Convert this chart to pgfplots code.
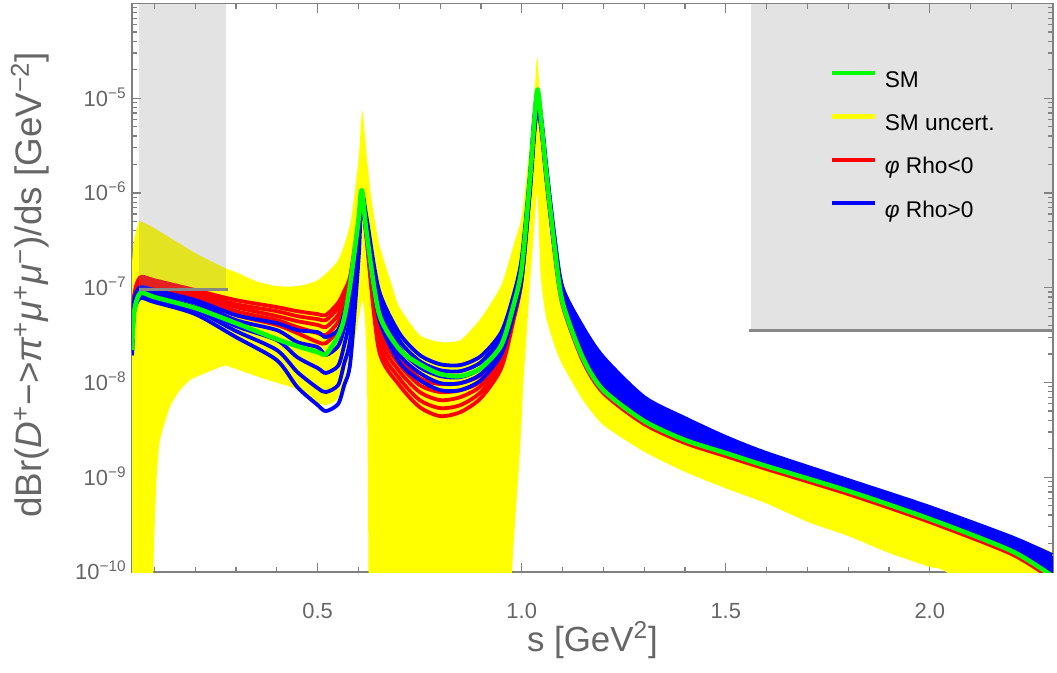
\documentclass[border=0pt]{standalone}
\usepackage{pgfplots}
\usepackage{pgfplotstable}
\pgfplotsset{compat=1.18}
\usepackage{fontspec}
\setmainfont{Liberation Sans}
\definecolor{txtgray}{gray}{0.4}
\definecolor{axgray}{gray}{0.5}
\definecolor{boxgray}{gray}{0.54}
\definecolor{linegray}{gray}{0.53}
\definecolor{smgreen}{rgb}{0,1,0}
\definecolor{ylw}{rgb}{1,1,0}

\pgfplotstableread{
x r1 r2 r3 r4 r5 b1 b2 b3 b4 b5 g
0.045 2.67e-8 2.46e-8 2.31e-8 2.20e-8 2.09e-8 2.46e-8 2.29e-8 2.18e-8 2.07e-8 1.93e-8 2.20e-8
0.05 8.16e-8 7.77e-8 7.40e-8 6.92e-8 6.40e-8 7.33e-8 6.82e-8 6.34e-8 5.89e-8 5.48e-8 5.53e-8
0.065 1.29e-7 1.23e-7 1.17e-7 1.09e-7 1.04e-7 1.01e-7 9.44e-8 8.99e-8 8.36e-8 7.77e-8 8.78e-8
0.1 1.20e-7 1.15e-7 1.09e-7 1.01e-7 9.67e-8 9.44e-8 8.78e-8 8.16e-8 7.59e-8 7.05e-8 7.96e-8
0.2 9.44e-8 8.99e-8 8.36e-8 7.96e-8 7.40e-8 7.40e-8 6.92e-8 6.25e-8 5.81e-8 5.27e-8 6.11e-8
0.3 7.40e-8 6.71e-8 6.25e-8 5.66e-8 5.14e-8 5.14e-8 4.55e-8 3.94e-8 3.49e-8 3.01e-8 4.23e-8
0.4 6.25e-8 5.66e-8 5.02e-8 4.55e-8 4.05e-8 4.23e-8 3.57e-8 2.80e-8 2.20e-8 1.72e-8 2.87e-8
0.45 5.66e-8 5.02e-8 4.44e-8 3.84e-8 3.32e-8 3.57e-8 2.67e-8 1.85e-8 1.29e-8 8.95e-9 2.42e-8
0.5 5.27e-8 4.67e-8 4.05e-8 3.32e-8 2.67e-8 3.40e-8 2.36e-8 1.42e-8 8.73e-9 5.78e-9 2.09e-8
0.52 5.14e-8 4.55e-8 3.84e-8 3.16e-8 2.60e-8 3.01e-8 1.95e-8 1.26e-8 7.93e-9 4.99e-9 1.99e-8
0.55 6.92e-8 6.11e-8 5.14e-8 4.34e-8 3.57e-8 3.57e-8 2.42e-8 1.50e-8 9.39e-9 5.93e-9 3.09e-8
0.565 9.22e-8 8.36e-8 7.40e-8 6.40e-8 5.40e-8 5.40e-8 3.75e-8 2.48e-8 1.60e-8 9.39e-9 4.78e-8
0.58 1.36e-7 1.23e-7 1.09e-7 9.44e-8 8.16e-8 1.07e-7 7.96e-8 5.14e-8 2.94e-8 1.64e-8 1.12e-7
0.6 5.16e-7 4.81e-7 4.47e-7 4.15e-7 3.86e-7 4.92e-7 4.25e-7 3.50e-7 2.75e-7 1.96e-7 5.16e-7
0.608 1.07e-6 1.04e-6 1.02e-6 9.95e-7 9.72e-7 1.02e-6 9.95e-7 9.72e-7 9.49e-7 9.03e-7 1.07e-6
0.62 3.86e-7 3.68e-7 3.50e-7 3.34e-7 3.18e-7 5.43e-7 4.92e-7 4.47e-7 4.05e-7 3.50e-7 3.77e-7
0.65 4.34e-8 3.66e-8 3.09e-8 2.60e-8 2.20e-8 9.44e-8 8.16e-8 6.92e-8 5.81e-8 4.78e-8 5.40e-8
0.7 1.85e-8 1.56e-8 1.32e-8 1.11e-8 9.39e-9 3.32e-8 2.80e-8 2.36e-8 1.99e-8 1.64e-8 2.25e-8
0.75 1.11e-8 9.39e-9 7.93e-9 6.52e-9 5.50e-9 1.95e-8 1.68e-8 1.45e-8 1.26e-8 1.06e-8 1.56e-8
0.8 9.63e-9 7.93e-9 6.52e-9 5.37e-9 4.42e-9 1.56e-8 1.35e-8 1.17e-8 9.86e-9 8.31e-9 1.23e-8
0.85 9.86e-9 8.31e-9 7.02e-9 5.78e-9 4.88e-9 1.53e-8 1.32e-8 1.14e-8 9.86e-9 8.31e-9 1.17e-8
0.9 1.20e-8 1.03e-8 9.17e-9 7.93e-9 6.86e-9 1.90e-8 1.64e-8 1.42e-8 1.23e-8 1.06e-8 1.42e-8
0.95 2.09e-8 1.90e-8 1.72e-8 1.56e-8 1.42e-8 3.40e-8 3.01e-8 2.67e-8 2.31e-8 1.99e-8 2.48e-8
0.98 5.81e-8 5.40e-8 5.14e-8 4.78e-8 4.55e-8 8.36e-8 7.40e-8 6.55e-8 5.81e-8 5.14e-8 6.55e-8
1.0 1.46e-7 1.39e-7 1.33e-7 1.26e-7 1.20e-7 2.05e-7 1.82e-7 1.61e-7 1.43e-7 1.26e-7 1.61e-7
1.02 1.27e-6 1.21e-6 1.15e-6 1.10e-6 1.04e-6 1.54e-6 1.40e-6 1.27e-6 1.15e-6 1.04e-6 1.36e-6
1.03 4.83e-6 4.60e-6 4.38e-6 4.17e-6 3.98e-6 5.86e-6 5.32e-6 4.83e-6 4.38e-6 3.98e-6 5.19e-6
1.039 1.10e-5 1.05e-5 1.00e-5 9.53e-6 9.09e-6 1.16e-5 1.05e-5 9.53e-6 8.65e-6 7.85e-6 1.24e-5
1.05 4.60e-6 4.49e-6 4.27e-6 4.17e-6 3.98e-6 5.19e-6 4.95e-6 4.60e-6 4.38e-6 4.07e-6 4.60e-6
1.06 1.66e-6 1.62e-6 1.54e-6 1.50e-6 1.43e-6 1.96e-6 1.87e-6 1.74e-6 1.66e-6 1.54e-6 1.66e-6
1.08 2.81e-7 2.75e-7 2.68e-7 2.55e-7 2.49e-7 3.59e-7 3.34e-7 3.10e-7 2.88e-7 2.68e-7 2.81e-7
1.1 8.36e-8 7.96e-8 7.40e-8 7.05e-8 6.55e-8 1.01e-7 9.22e-8 8.36e-8 7.59e-8 7.05e-8 7.05e-8
1.15 2.48e-8 2.25e-8 2.04e-8 1.85e-8 1.68e-8 3.84e-8 3.24e-8 2.73e-8 2.31e-8 1.95e-8 1.81e-8
1.2 1.20e-8 1.06e-8 9.63e-9 8.52e-9 7.74e-9 1.85e-8 1.56e-8 1.29e-8 1.06e-8 8.73e-9 8.31e-9
1.3 5.12e-9 4.76e-9 4.32e-9 4.02e-9 3.64e-9 7.02e-9 6.22e-9 5.37e-9 4.64e-9 4.11e-9 3.92e-9
1.4 3.15e-9 2.93e-9 2.72e-9 2.47e-9 2.30e-9 4.21e-9 3.73e-9 3.30e-9 2.93e-9 2.59e-9 2.47e-9
1.5 2.19e-9 2.03e-9 1.89e-9 1.80e-9 1.67e-9 2.66e-9 2.47e-9 2.24e-9 2.03e-9 1.89e-9 1.80e-9
1.6 1.52e-9 1.45e-9 1.38e-9 1.28e-9 1.22e-9 1.80e-9 1.67e-9 1.59e-9 1.48e-9 1.38e-9 1.31e-9
1.8 8.08e-10 7.70e-10 7.33e-10 6.99e-10 6.65e-10 9.35e-10 8.91e-10 8.28e-10 7.70e-10 7.33e-10 7.16e-10
2.0 4.19e-10 4.00e-10 3.81e-10 3.54e-10 3.37e-10 4.85e-10 4.51e-10 4.30e-10 4.09e-10 3.81e-10 3.63e-10
2.2 1.93e-10 1.84e-10 1.75e-10 1.63e-10 1.55e-10 2.34e-10 2.18e-10 2.02e-10 1.88e-10 1.75e-10 1.67e-10
2.3 1.19e-10 1.10e-10 1.00e-10 9.3e-11 8.4e-11 1.51e-10 1.34e-10 1.19e-10 1.05e-10 9.53e-11 9.07e-11
}\curves

\begin{document}
\begin{tikzpicture}
\begin{axis}[
  name=ax, scale only axis, width=460.5bp, height=284.25bp,
  ymode=log, xmin=0.0449, xmax=2.302, ymin=1e-10, ymax=1e-4,
  axis line style={axgray, line width=0.6bp},
  tick style={axgray, line width=0.6bp},
  major tick length=4.7bp, minor tick length=2.6bp,
  tick align=inside, xtick pos=both, ytick pos=both,
  xtick={0.5,1,1.5,2}, xticklabels={0.5,1.0,1.5,2.0},
  minor xtick={0.1,0.2,0.3,0.4,0.6,0.7,0.8,0.9,1.1,1.2,1.3,1.4,1.6,1.7,1.8,1.9,2.1,2.2,2.3},
  ytick={1e-10,1e-9,1e-8,1e-7,1e-6,1e-5},
  yticklabels={10\textsuperscript{−10},10\textsuperscript{−9},10\textsuperscript{−8},10\textsuperscript{−7},10\textsuperscript{−6},10\textsuperscript{−5}},
  minor ytick={2e-10,3e-10,4e-10,5e-10,6e-10,7e-10,8e-10,9e-10,2e-9,3e-9,4e-9,5e-9,6e-9,7e-9,8e-9,9e-9,2e-8,3e-8,4e-8,5e-8,6e-8,7e-8,8e-8,9e-8,2e-7,3e-7,4e-7,5e-7,6e-7,7e-7,8e-7,9e-7,2e-6,3e-6,4e-6,5e-6,6e-6,7e-6,8e-6,9e-6,2e-5,3e-5,4e-5,5e-5,6e-5,7e-5,8e-5,9e-5},
  ticklabel style={font=\fontsize{11}{13}\selectfont, text=txtgray},
  xticklabel style={anchor=north, inner sep=0pt, yshift=-15.5bp},
  yticklabel style={anchor=base east, inner sep=0pt, xshift=-2.5bp, yshift=-3.9bp},
  xlabel={s [GeV\textsuperscript{2}]},
  ylabel={dBr(\textit{D}\textsuperscript{+}−>\textit{π}\textsuperscript{+}\textit{μ}\textsuperscript{+}\textit{μ}\textsuperscript{−})/ds [GeV\textsuperscript{−2}]},
  xlabel style={font=\fontsize{17.5}{20}\selectfont, text=txtgray, at={(axis description cs:0.5,-0.1196)}, anchor=center},
  ylabel style={font=\fontsize{18.5}{21}\selectfont, text=txtgray, at={(axis description cs:-0.1107,0.505)}, anchor=center},
  legend style={at={(axis description cs:0.7568,0.889)}, anchor=north west,
    draw=none, fill=none, inner sep=0pt, row sep=7.7bp, column sep=3bp,
    font=\fontsize{11.4}{13}\selectfont,
    nodes={inner sep=1bp, text height=9bp, text depth=3bp}},
  legend cell align=left,
  legend image code/.code={\draw[#1, line width=2.2bp] (0bp,4bp) -- (21.5bp,4bp);},
  every axis plot/.append style={line join=round},
]
% SM uncertainty band
\addplot[fill=ylw, draw=none, forget plot, smooth, tension=0.35] coordinates {
(0.045,1.86e-7) (0.05,3.18e-7) (0.06,4.69e-7) (0.066,5.04e-7) (0.1,4.25e-7)
(0.2,2.32e-7) (0.275,1.6e-7) (0.3,1.46e-7) (0.35,1.17e-7) (0.4,1.04e-7)
(0.45,1.04e-7) (0.5,1.20e-7) (0.55,1.95e-7) (0.58,4.77e-7) (0.6,2.22e-6)
(0.609,7.47e-6) (0.62,2.50e-6) (0.632,8.40e-7) (0.65,2.95e-7) (0.68,1.12e-7)
(0.7,6.24e-8) (0.75,3.16e-8) (0.8,2.67e-8) (0.85,2.80e-8) (0.9,4.78e-8)
(0.95,1.06e-7) (0.98,2.81e-7) (1.0,5.73e-7) (1.02,3.19e-6) (1.03,9.5e-6)
(1.038,2.71e-5) (1.046,8.04e-6) (1.06,1.12e-6) (1.07,3.18e-7) (1.1,9.44e-8)
(1.15,3.57e-8) (1.2,1.90e-8) (1.3,6.8e-9) (1.4,4.0e-9) (1.5,2.55e-9)
(1.6,1.7e-9) (1.8,8.2e-10) (2.0,4.6e-10) (2.2,2.2e-10) (2.31,1.4e-10)
(2.31,1e-11) (2.05,9.3e-11) (2.0,1.13e-10) (1.9,1.59e-10) (1.8,2.40e-10)
(1.7,3.39e-10) (1.6,5.3e-10) (1.5,7.64e-10) (1.4,1.14e-9) (1.3,1.86e-9)
(1.2,3.55e-9) (1.15,6.52e-9) (1.1,1.53e-8) (1.08,2.48e-8) (1.06,4.78e-8)
(1.05,9.44e-8) (1.045,1.73e-7) (1.038,9.9e-7) (1.0245,1.95e-7) (1.0203,1.12e-7)
(1.0123,3.32e-8) (1.0039,9.9e-9) (0.9958,1.94e-9) (0.976,1e-10) (0.972,1e-11)
(0.625,1e-11) (0.6245,1e-10) (0.621,1.06e-8) (0.616,4.55e-8) (0.610,7.40e-8)
(0.5995,4.55e-8) (0.587,2.20e-8) (0.571,1.46e-8) (0.563,9.39e-9) (0.5466,6.52e-9)
(0.518,5.78e-9) (0.481,6.52e-9) (0.4485,8.52e-9) (0.367,1.10e-8) (0.285,1.46e-8)
(0.269,1.50e-8) (0.203,1.15e-8) (0.187,1.06e-8) (0.1625,8.31e-9) (0.138,5.54e-9)
(0.1135,2.47e-9) (0.105,9.34e-10) (0.097,1.05e-10) (0.095,1e-11) (0.045,1e-11)
} --cycle;
% phi Rho<0
\addplot[red, line width=1.9bp, forget plot, smooth, tension=0.45] table[x=x,y=r1] {\curves};
\addplot[red, line width=1.9bp, forget plot, smooth, tension=0.45] table[x=x,y=r2] {\curves};
\addplot[red, line width=1.9bp, forget plot, smooth, tension=0.45] table[x=x,y=r3] {\curves};
\addplot[red, line width=1.9bp, forget plot, smooth, tension=0.45] table[x=x,y=r4] {\curves};
\addplot[red, line width=1.9bp, forget plot, smooth, tension=0.45] table[x=x,y=r5] {\curves};
% phi Rho>0
\addplot[fill=blue, draw=none, forget plot, smooth, tension=0.3] coordinates {
(1.08,3.59e-7) (1.1,1.01e-7) (1.15,3.84e-8) (1.2,1.85e-8) (1.3,7.02e-9) (1.4,4.21e-9)
(1.5,2.66e-9) (1.6,1.80e-9) (1.8,9.35e-10) (2.0,4.85e-10) (2.2,2.34e-10) (2.3,1.51e-10)
(2.3,9.53e-11) (2.2,1.75e-10) (2.0,3.81e-10) (1.8,7.33e-10) (1.6,1.38e-9) (1.5,1.89e-9)
(1.4,2.59e-9) (1.3,4.11e-9) (1.2,8.73e-9) (1.15,1.95e-8) (1.1,7.05e-8) (1.08,2.68e-7)
} --cycle;
\addplot[blue, line width=1.9bp, forget plot, smooth, tension=0.45] table[x=x,y=b1] {\curves};
\addplot[blue, line width=1.9bp, forget plot, smooth, tension=0.45] table[x=x,y=b2] {\curves};
\addplot[blue, line width=1.9bp, forget plot, smooth, tension=0.45] table[x=x,y=b3] {\curves};
\addplot[blue, line width=1.9bp, forget plot, smooth, tension=0.45] table[x=x,y=b4] {\curves};
\addplot[blue, line width=1.9bp, forget plot, smooth, tension=0.45] table[x=x,y=b5] {\curves};
% SM
\addplot[smgreen, line width=2.3bp, forget plot, smooth, tension=0.45] table[x=x,y=g] {\curves};
% excluded regions
\addplot[fill=boxgray, fill opacity=0.24, draw=none, forget plot] coordinates {
(0.062,9.5e-8) (0.275,9.5e-8) (0.275,2e-4) (0.062,2e-4)} --cycle;
\addplot[fill=boxgray, fill opacity=0.24, draw=none, forget plot] coordinates {
(1.562,3.57e-8) (2.4,3.57e-8) (2.4,2e-4) (1.562,2e-4)} --cycle;
\addplot[linegray, line width=1.5bp, forget plot] coordinates {(0.062,9.5e-8) (0.279,9.5e-8)};
\addplot[linegray, line width=1.5bp, forget plot] coordinates {(1.558,3.57e-8) (2.4,3.57e-8)};
% legend
\addlegendimage{smgreen}
\addlegendentry{SM}
\addlegendimage{ylw}
\addlegendentry{SM uncert.}
\addlegendimage{red}
\addlegendentry{\textit{φ} Rho<0}
\addlegendimage{blue}
\addlegendentry{\textit{φ} Rho>0}
\end{axis}
\pgfresetboundingbox
\path[use as bounding box] ([xshift=-66bp,yshift=-50.5bp]ax.south west) rectangle ([xshift=2bp,yshift=1.75bp]ax.north east);
\end{tikzpicture}
\end{document}
